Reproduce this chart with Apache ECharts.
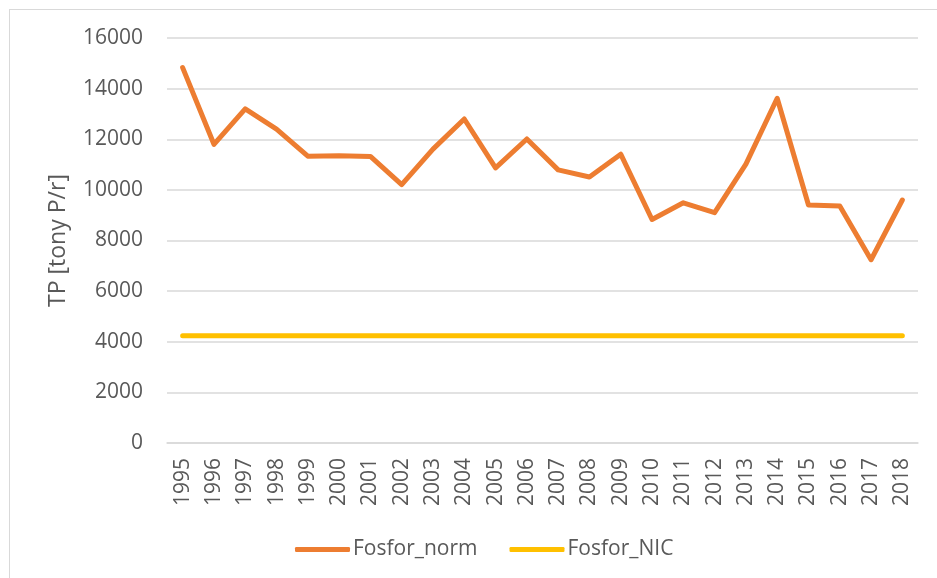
<!DOCTYPE html>
<html>
<head>
<meta charset="utf-8">
<script src="https://cdn.jsdelivr.net/npm/echarts@6/dist/echarts.min.js"></script>
<style>
  html, body { margin: 0; padding: 0; background: #fff; }
  #frame { position: absolute; left: 9px; top: 9px; width: 940px; height: 580px; border: 1px solid #d9d9d9; box-sizing: border-box; }
  #main { position: absolute; left: 0; top: 0; width: 937px; height: 578px; }
</style>
</head>
<body>
<div id="frame"></div>
<div id="main"></div>
<script>
// years on the category axis
var lata = ["1995", "1996", "1997", "1998", "1999", "2000", "2001", "2002", "2003", "2004", "2005", "2006",
  "2007", "2008", "2009", "2010", "2011", "2012", "2013", "2014", "2015", "2016", "2017", "2018"];

// TP, tony P/r
var fosforNorm = [14830, 11800, 13200, 12400, 11330, 11350, 11320, 10210, 11610, 12800, 10870, 12010,
  10790, 10510, 11410, 8830, 9490, 9100, 11020, 13620, 9400, 9360, 7240, 9600];
var fosforNIC = [4240, 4240, 4240, 4240, 4240, 4240, 4240, 4240, 4240, 4240, 4240, 4240,
  4240, 4240, 4240, 4240, 4240, 4240, 4240, 4240, 4240, 4240, 4240, 4240];

var font = "'Open Sans', 'Liberation Sans', sans-serif";
var textColor = "#595959";

var option = {
  animation: false,
  textStyle: { fontFamily: font },
  grid: { left: 167, right: 19, top: 38, bottom: 135 },
  legend: {
    bottom: 13,
    left: 290,
    itemWidth: 55,
    itemHeight: 5,
    itemGap: 32,
    icon: "roundRect",
    textStyle: { color: textColor, fontSize: 21, fontFamily: font, padding: [0, 0, 0, -2] },
    data: ["Fosfor_norm", "Fosfor_NIC"]
  },
  xAxis: {
    type: "category",
    data: lata,
    boundaryGap: true,
    axisLine: { lineStyle: { color: "#d9d9d9", width: 1.5 } },
    axisTick: { show: false },
    axisLabel: { rotate: 90, color: textColor, fontSize: 21, margin: 15, fontFamily: font }
  },
  yAxis: {
    type: "value",
    min: 0,
    max: 16000,
    interval: 2000,
    name: "TP [tony P/r]",
    nameLocation: "middle",
    nameGap: 97,
    nameTextStyle: { color: textColor, fontSize: 23, fontFamily: font },
    axisLine: { show: false },
    axisTick: { show: false },
    axisLabel: {
      color: textColor, fontSize: 21, margin: 24, fontFamily: font,
      formatter: function (v) { return String(v); }
    },
    splitLine: { lineStyle: { color: "#d9d9d9", width: 1.5 } }
  },
  series: [
    {
      name: "Fosfor_norm",
      type: "line",
      data: fosforNorm,
      symbol: "none",
      lineStyle: { color: "#ed7d31", width: 5, cap: "round", join: "round" },
      itemStyle: { color: "#ed7d31" }
    },
    {
      name: "Fosfor_NIC",
      type: "line",
      data: fosforNIC,
      symbol: "none",
      lineStyle: { color: "#ffc000", width: 5, cap: "round" },
      itemStyle: { color: "#ffc000" }
    }
  ]
};

var chartDom = document.getElementById("main");
var myChart = echarts.init(chartDom);
myChart.setOption(option);
</script>
</body>
</html>
